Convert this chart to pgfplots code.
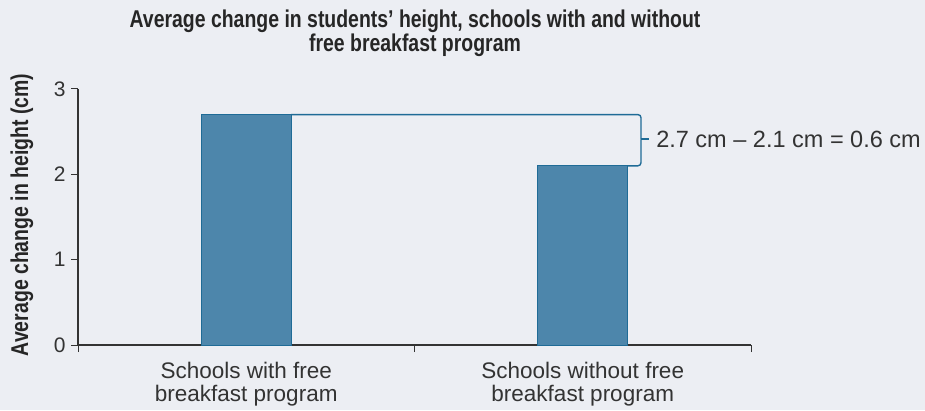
\documentclass[border=0pt]{standalone}
\usepackage{fontspec}
\setmainfont{Liberation Sans}
\newfontfamily\narrowfont[FakeStretch=0.8]{Liberation Sans}
\usepackage{pgfplots}
\pgfplotsset{compat=1.18}
\definecolor{bg}{HTML}{ECEEF3}
\definecolor{barfill}{HTML}{4D86AB}
\definecolor{baredge}{HTML}{1F6B96}
\definecolor{axisgray}{HTML}{333333}
\begin{document}
\begin{tikzpicture}[x=1pt,y=1pt]
\path[use as bounding box, fill=bg] (0,0) rectangle (925,410);
% title and y label
\node[font=\narrowfont\bfseries\fontsize{24.3}{24}\selectfont, text=black!85, align=center] at (415,377)
  {Average change in students’ height, schools with and without\\free breakfast program};
\node[font=\narrowfont\bfseries\fontsize{24.3}{26}\selectfont, text=black!85, rotate=90] at (22,195)
  {Average change in height (cm)};
\begin{axis}[
  at={(78pt,65pt)}, anchor=south west,
  scale only axis, width=673pt, height=256pt,
  xmin=-0.5, xmax=1.5, ymin=0, ymax=3,
  axis x line=bottom, axis y line=left,
  axis line style={-, draw=axisgray, line width=1.2pt},
  tick align=outside, major tick length=7pt,
  tick style={draw=axisgray, line width=1pt},
  ytick={0,1,2,3},
  xtick={-0.5,0.5,1.5}, xticklabels={},
  extra x ticks={0,1},
  extra x tick labels={{Schools with free\\breakfast program},{Schools without free\\breakfast program}},
  extra x tick style={major tick length=0pt,
    tick label style={align=center, font=\fontsize{22.5}{23}\selectfont, text=axisgray, yshift=-14pt}},
  yticklabel style={font=\fontsize{21}{24}\selectfont, text=axisgray, xshift=-2pt},
  /pgf/number format/assume math mode=true,
  clip=false,
]
\addplot[ybar, bar width=90pt, fill=barfill, draw=baredge, line width=1pt]
  coordinates {(0,2.7) (1,2.1)};
% bracket showing the difference
\draw[baredge, line width=1.4pt, rounded corners=3pt]
  (axis cs:0.1337,2.7) -- (axis cs:1.173,2.7) -- (axis cs:1.173,2.41);
\draw[baredge, line width=1.4pt, rounded corners=3pt]
  (axis cs:1.1337,2.1) -- (axis cs:1.173,2.1) -- (axis cs:1.173,2.41);
\draw[baredge, line width=1.4pt] (axis cs:1.173,2.414) -- (axis cs:1.198,2.414);
\node[anchor=west, font=\fontsize{23.5}{26}\selectfont, text=axisgray, inner sep=0pt]
  at (axis cs:1.218,2.414) {2.7 cm – 2.1 cm = 0.6 cm};
\end{axis}
\end{tikzpicture}
\end{document}
